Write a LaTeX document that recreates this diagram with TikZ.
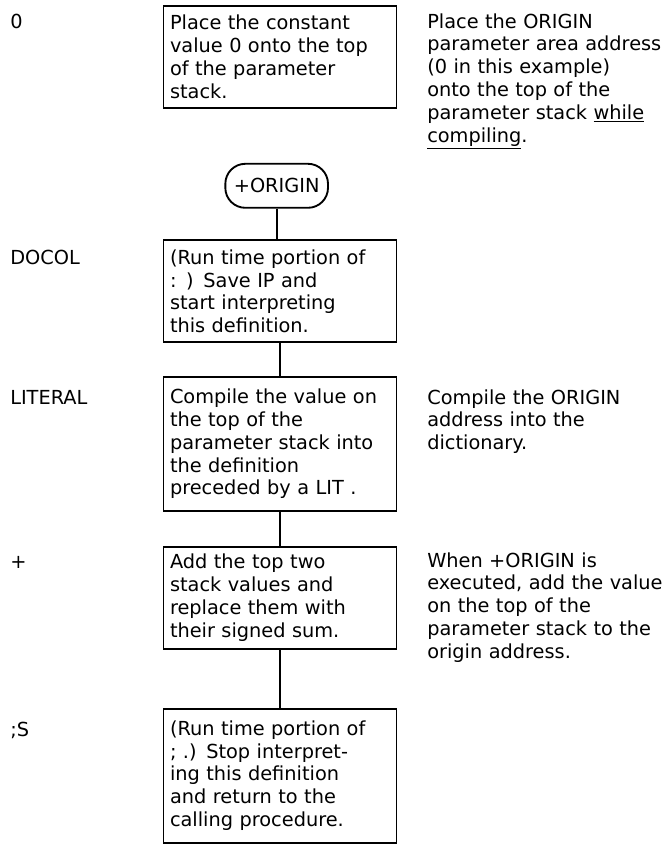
\documentclass[tikz,border=0pt]{standalone}
\usepackage{fontspec}
\setmainfont{DejaVu Sans}
\usetikzlibrary{positioning}

\begin{document}
\begin{tikzpicture}[
        x=0.75pt, y=-0.75pt,
        node distance=25pt,
        every node/.style={font=\fontsize{14.5pt}{17.1pt}\selectfont},
        wordbox/.style={draw, line width=1.4pt, minimum width=174.75pt, text width=165pt, inner xsep=4pt, inner ysep=5.4pt, align=left, minimum height=76.5pt},
        tallbox/.style={wordbox, minimum height=100.5pt},
        term/.style={draw, line width=1.4pt, rounded corners=15pt, minimum width=77pt, minimum height=33pt, inner xsep=2pt},
        tag/.style={anchor=base west, inner sep=0pt},
        note/.style={anchor=base west, inner sep=0pt, text width=182pt, align=left},
        link/.style={line width=1.3pt},
    ]
    \useasboundingbox (0,0) rectangle (665,846);

    %% Column of word boxes
    \node[wordbox, anchor=north] (zero) at (280,5) {Place the constant\\value 0 onto the top\\of the parameter\\stack.};
    \node[term, below=40.5pt of zero, xshift=-2.5pt] (entry) {+ORIGIN};
    \node[wordbox, below=23pt of entry, xshift=2.5pt] (docol) {(Run time portion of\\: ) Save IP and\\start interpreting\\this definition.};
    \node[tallbox, below=24.5pt of docol] (literal) {Compile the value on\\the top of the\\parameter stack into\\the definition\\preceded by a LIT .};
    \node[wordbox, below=25.5pt of literal] (plus) {Add the top two\\stack values and\\replace them with\\their signed sum.};
    \node[tallbox, below=43.5pt of plus] (semis) {(Run time portion of\\; .) Stop interpret-\\ing this definition\\and return to the\\calling procedure.};

    %% Threading lines
    \draw[link] (entry) -- (entry |- docol.north);
    \draw[link] (docol) -- (literal);
    \draw[link] (literal) -- (plus);
    \draw[link] (plus) -- (semis);

    %% Word names
    \node[tag] (tzero) at (10,28) {0};
    \node[tag] (tdocol) at (10,264) {DOCOL};
    \node[tag] (tliteral) at (10,404) {LITERAL};
    \node[tag] (tplus) at (10,568) {+};
    \node[tag] (tsemis) at (10,736) {;S};

    %% Remarks
    \node[note] (nzero) at (427,28) {Place the ORIGIN\\parameter area address\\(0 in this example)\\onto the top of the\\parameter stack \underline{while}\\\underline{compiling}.};
    \node[note] (nliteral) at (427,404) {Compile the ORIGIN\\address into the\\dictionary.};
    \node[note] (nplus) at (427,567) {When +ORIGIN is\\executed, add the value\\on the top of the\\parameter stack to the\\origin address.};

\end{tikzpicture}
\end{document}
